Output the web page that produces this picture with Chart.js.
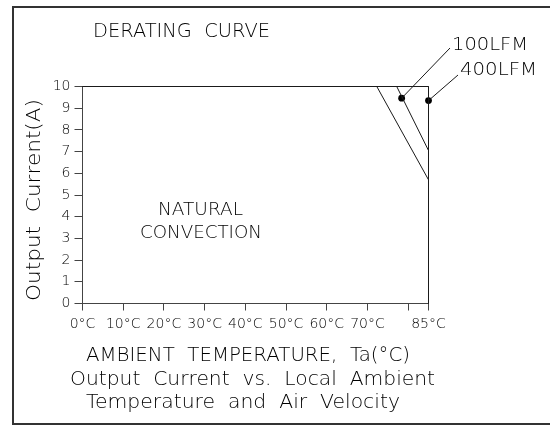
<!DOCTYPE html>
<html>
<head>
<meta charset="utf-8">
<script src="https://cdn.jsdelivr.net/npm/chart.js@4/dist/chart.umd.min.js"></script>
<style>
  html, body { margin: 0; padding: 0; background: #fff; }
  #wrap { width: 550px; height: 426px; }
</style>
</head>
<body>
<div id="wrap"><canvas id="c" width="550" height="426"></canvas></div>
<script>
// Axis ticks
const xTickValues = [0, 10, 20, 30, 40, 50, 60, 70, 80, 85];
const xTickLabels = ['0°C', '10°C', '20°C', '30°C', '40°C', '50°C', '60°C', '70°C', '', '85°C'];
const yTickValues = [0, 1, 2, 3, 4, 5, 6, 7, 8, 9, 10];

// Derating curves: ambient temperature (°C) vs output current (A)
const naturalTemp = [0, 72.3, 85];
const naturalCurrent = [10, 10, 5.7];
const lfm100Temp = [77.2, 85];
const lfm100Current = [10, 7.05];
const lfm400Temp = [0, 85, 85];
const lfm400Current = [10, 10, 0];

// Callout markers for the forced-air curves
const markerTemp = [78.4, 85];
const markerCurrent = [9.46, 9.35];
const markerLabels = ['100LFM', '400LFM'];

const FONT = '"DejaVu Sans", sans-serif';
const INK = '#000';

function pts(xs, ys) { return xs.map((x, i) => ({ x: x, y: ys[i] })); }

const lineStyle = { borderColor: '#1a1a1a', borderWidth: 1, pointRadius: 0, fill: false, tension: 0, clip: false };

// Text squeezed or stretched to span [x0, x1] on a baseline
function fitText(ctx, s, x0, x1, y, size) {
  ctx.font = '200 ' + size + 'px ' + FONT;
  ctx.letterSpacing = '0px';
  ctx.textAlign = 'left';
  const w = ctx.measureText(s).width;
  ctx.save();
  ctx.translate(x0, y);
  ctx.scale((x1 - x0) / w, 1);
  ctx.fillText(s, 0, 0);
  ctx.restore();
}

// Frame, annotations and captions
const decor = {
  id: 'decor',
  beforeDraw(chart) {
    const ctx = chart.ctx;
    ctx.save();
    ctx.fillStyle = '#fff';
    ctx.fillRect(0, 0, chart.width, chart.height);
    ctx.strokeStyle = '#333';
    ctx.lineWidth = 2;
    ctx.strokeRect(13, 7, 600, 417);
    ctx.restore();
    ctx.letterSpacing = '0px';
  },
  afterDraw(chart) {
    const ctx = chart.ctx;
    const xs = chart.scales.x, ys = chart.scales.y;
    ctx.save();
    ctx.fillStyle = INK;
    ctx.textBaseline = 'alphabetic';

    fitText(ctx, 'DERATING  CURVE', 93, 270, 37, 19);
    fitText(ctx, 'NATURAL', 158, 243, 215, 17);
    fitText(ctx, 'CONVECTION', 140, 262, 238, 17);
    fitText(ctx, 'AMBIENT  TEMPERATURE,  Ta(°C)', 86, 410, 361, 20);
    fitText(ctx, 'Output  Current  vs.  Local  Ambient', 70, 435, 385, 20);
    fitText(ctx, 'Temperature  and  Air  Velocity', 86, 400, 408, 20);

    // y-axis title
    ctx.save();
    ctx.translate(40, 200);
    ctx.rotate(-Math.PI / 2);
    fitText(ctx, 'Output  Current(A)', -101, 101, 0, 19);
    ctx.restore();

    // callout labels with leader lines
    const labelBox = [[452, 528, 50, 450, 48], [460, 537, 75, 458, 75]];
    ctx.strokeStyle = '#1a1a1a';
    ctx.lineWidth = 1;
    markerLabels.forEach((lab, i) => {
      const px = xs.getPixelForValue(markerTemp[i]);
      const py = ys.getPixelForValue(markerCurrent[i]);
      ctx.beginPath();
      ctx.moveTo(px, py);
      ctx.lineTo(labelBox[i][3], labelBox[i][4]);
      ctx.stroke();
      fitText(ctx, lab, labelBox[i][0], labelBox[i][1], labelBox[i][2], 18);
    });
    ctx.restore();
  }
};

new Chart(document.getElementById('c'), {
  type: 'line',
  data: {
    datasets: [
      Object.assign({ label: 'Natural convection', data: pts(naturalTemp, naturalCurrent) }, lineStyle),
      Object.assign({ label: '100LFM', data: pts(lfm100Temp, lfm100Current) }, lineStyle),
      Object.assign({ label: '400LFM', data: pts(lfm400Temp, lfm400Current) }, lineStyle),
      {
        type: 'scatter', label: 'Markers', data: pts(markerTemp, markerCurrent),
        pointStyle: 'circle', pointRadius: 3.4, backgroundColor: INK, borderColor: INK,
        borderWidth: 0, clip: false
      }
    ]
  },
  options: {
    responsive: false,
    animation: false,
    events: [],
    layout: { padding: { left: 0, right: 121.5, top: 86.5, bottom: 82.5 } },
    plugins: { legend: { display: false }, tooltip: { enabled: false }, title: { display: false } },
    scales: {
      x: {
        type: 'linear', min: 0, max: 85,
        afterBuildTicks(scale) { scale.ticks = xTickValues.map(v => ({ value: v })); },
        afterFit(scale) { scale.height = 40; },
        grid: { display: true, drawOnChartArea: false, drawTicks: true, tickLength: 7, color: '#444', lineWidth: 1 },
        border: { display: true, color: '#444', width: 1 },
        ticks: {
          autoSkip: false, maxRotation: 0, padding: 5, color: INK,
          font: { family: FONT, size: 14, weight: '200' },
          callback(v) { const i = xTickValues.indexOf(v); return i >= 0 ? xTickLabels[i] : ''; }
        }
      },
      y: {
        type: 'linear', min: 0, max: 10,
        afterBuildTicks(scale) { scale.ticks = yTickValues.map(v => ({ value: v })); },
        afterFit(scale) { scale.width = 82.5; },
        grid: { display: true, drawOnChartArea: false, drawTicks: true, tickLength: 8, color: '#444', lineWidth: 1 },
        border: { display: true, color: '#444', width: 1 },
        ticks: { padding: 4, color: INK, font: { family: FONT, size: 14, weight: '200' } }
      }
    }
  },
  plugins: [decor]
});
</script>
</body>
</html>
